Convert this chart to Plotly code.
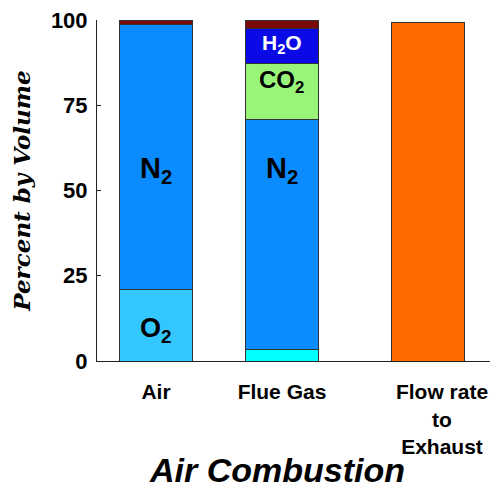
import plotly.graph_objects as go

# Data
categories = ["Air", "Flue Gas", "Flow rate<br>to<br>Exhaust"]
x_pos = [0, 1, 2.16]          # bar centres (uneven spacing as in the reference)
label_pos = [0, 1, 2.27]      # category label positions

o2_air = [21, 0, 0]
n2 = [77.8, 67.2, 0]
co2 = [0, 16.4, 0]
h2o = [0, 10.5, 0]
ar = [1.2, 2.4, 0]
o2_flue = [0, 3.5, 0]
exhaust = [0, 0, 99.2]

BW = 0.58
line = dict(color="#333333", width=1)

fig = go.Figure()

def add(vals, color):
    fig.add_trace(go.Bar(x=x_pos, y=vals, width=BW, marker=dict(color=color, line=line),
                         showlegend=False, hoverinfo="skip"))

add(o2_air, "#33C6FF")
add(o2_flue, "#00FFFF")
add(n2, "#0A8CFF")
add(co2, "#99F57A")
add(h2o, "#0A0AE6")
add(ar, "#7A0A0A")
add(exhaust, "#FF6A00")

fig.update_layout(barmode="stack")

# in-bar labels
ann = []
def lab(x, y, text, size, color="black"):
    ann.append(dict(x=x, y=y, xref="x", yref="y", text=text, showarrow=False,
                    font=dict(family="Liberation Sans", size=size, color=color, weight="bold")))

lab(x_pos[0], o2_air[0] / 2 - 1.5, "O<sub>2</sub>", 27)
lab(x_pos[0], 56, "N<sub>2</sub>", 29)
lab(x_pos[1], 56, "N<sub>2</sub>", 29)
base_co2 = o2_flue[1] + n2[1]
lab(x_pos[1], base_co2 + co2[1] / 2 + 3, "CO<sub>2</sub>", 24)
base_h2o = base_co2 + co2[1]
lab(x_pos[1], base_h2o + h2o[1] / 2 + 0.5, "H<sub>2</sub>O", 21, "white")

# x-axis title placed as paper annotation
ann.append(dict(x=(277 - 97) / 393, y=-0.32, xref="paper", yref="paper", text="Air Combustion",
                showarrow=False, xanchor="center", yanchor="middle",
                font=dict(family="Liberation Sans", size=34, color="black", weight="bold", style="italic")))

fig.update_layout(
    annotations=ann,
    width=502, height=489,
    margin=dict(l=89, r=20, t=12, b=136, autoexpand=False),
    paper_bgcolor="white", plot_bgcolor="white",
    xaxis=dict(range=[-0.468, 2.651], tickvals=label_pos, ticktext=categories,
               tickfont=dict(family="Liberation Sans", size=21, color="black", weight="bold"),
               showline=True, linecolor="#222222", linewidth=1, ticks="", showgrid=False,
               zeroline=False, tickangle=0, automargin=False, ticklabelstandoff=12,
               ticklabeloverflow="allow"),
    yaxis=dict(range=[0, 100], tickvals=[0, 25, 50, 75, 100],
               tickfont=dict(family="Liberation Sans", size=22, color="black", weight="bold"),
               showline=True, linecolor="#222222", linewidth=1, ticks="inside", ticklen=4,
               tickcolor="#222222", showgrid=False, zeroline=False, automargin=False,
               ticklabelstandoff=4, ticklabeloverflow="allow",
               title=dict(text="Percent by Volume",
                          font=dict(family="DejaVu Serif", size=23, color="black",
                                    weight="bold", style="italic"), standoff=20)),
)

fig.write_html("out.html")
